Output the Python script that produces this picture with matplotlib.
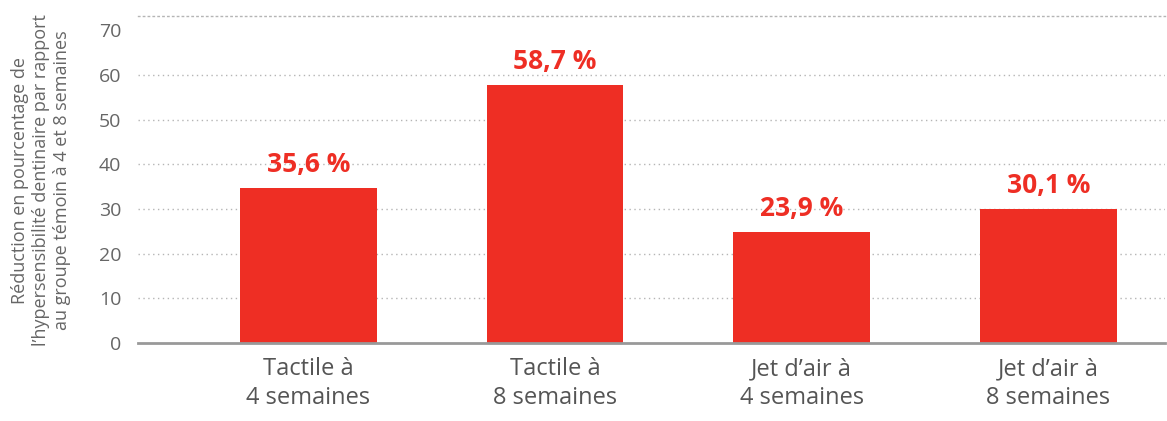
import matplotlib
matplotlib.use('Agg')
import matplotlib.pyplot as plt

# data
categories = ['Tactile à\n4 semaines', 'Tactile à\n8 semaines',
              'Jet d\u2019air à\n4 semaines', 'Jet d\u2019air à\n8 semaines']
heights = [34.7, 57.8, 24.85, 30.0]
labels = ['35,6 %', '58,7 %', '23,9 %', '30,1 %']
yticks = [0, 10, 20, 30, 40, 50, 60, 70]

red = '#EE2E24'
grey = '#666666'

plt.rcParams['font.family'] = ['Open Sans', 'DejaVu Sans']

fig = plt.figure(figsize=(11.67, 4.21), dpi=100)
ax = fig.add_axes([0.1183, 0.1853, 0.8797, 0.7767])

x = list(range(len(categories)))
ax.bar(x, heights, width=0.555, color=red, zorder=3)

for xi, h, lab in zip(x, heights, labels):
    ax.annotate(lab, (xi, h), xytext=(0, 7), textcoords='offset points',
                ha='center', va='bottom', color=red, fontsize=19,
                fontweight='bold')

ax.set_xlim(-0.691, 3.472)
ax.set_ylim(0, 73.2)
ax.set_yticks(yticks)
ax.set_xticks(x)
ax.set_xticklabels(categories, fontsize=17, color='#555555', linespacing=1.3)
ax.tick_params(axis='y', length=0, pad=12, labelsize=14, labelcolor=grey)
ax.tick_params(axis='x', length=0, pad=10)

# dotted grid, except at 70 (the top line sits at the axis top instead)
for v in yticks[1:-1]:
    ax.axhline(v, color='#b5b5b5', lw=1, ls=(0, (1, 2.5)), zorder=1)

for s in ['left', 'right']:
    ax.spines[s].set_visible(False)
ax.spines['top'].set_color('#b5b5b5')
ax.spines['top'].set_linestyle((0, (1, 2.5)))
ax.spines['top'].set_linewidth(1)
ax.spines['bottom'].set_color('#999999')
ax.spines['bottom'].set_linewidth(2)
ax.spines['bottom'].set_zorder(4)

fig.text(0.035, 0.572,
         'Réduction en pourcentage de\nl\u2019hypersensibilité dentinaire par rapport\nau groupe témoin à 4 et 8 semaines',
         rotation=90, ha='center', va='center', fontsize=13, color=grey,
         linespacing=1.2)

fig.savefig('out.png', dpi=100)
